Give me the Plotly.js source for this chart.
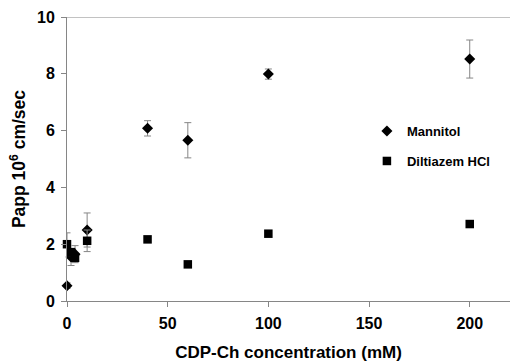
<!DOCTYPE html>
<html>
<head>
<meta charset="utf-8">
<script src="https://cdn.plot.ly/plotly-3.0.1.min.js"></script>
<style>html,body{margin:0;padding:0;background:#fff;}#chart{width:512px;height:362px;}</style>
</head>
<body>
<div id="chart"></div>
<script>
// Mannitol (diamonds)
var mannitolX = [0, 2, 4, 10, 40, 60, 100, 200];
var mannitolY = [0.54, 1.55, 1.65, 2.5, 6.08, 5.66, 7.99, 8.52];
var mannitolErr = [0.1, 0.3, 0.3, 0.6, 0.27, 0.62, 0.18, 0.67];
// Diltiazem HCl (squares)
var diltX = [0, 2, 4, 10, 40, 60, 100, 200];
var diltY = [2.0, 1.72, 1.52, 2.12, 2.17, 1.29, 2.37, 2.71];
var diltErr = [0.4, 0.12, 0.1, 0.38, 0.1, 0.06, 0.07, 0.06];

var xTicks = [0, 50, 100, 150, 200];
var yTicks = [0, 2, 4, 6, 8, 10];

var font = "Liberation Sans, Arial, sans-serif";
var grey = "#868686";

var traces = [
  {
    x: mannitolX, y: mannitolY, name: "Mannitol", type: "scatter", mode: "markers",
    legendgroup: "a", cliponaxis: false,
    marker: {symbol: "diamond", size: 8.5, color: "#000"},
    error_y: {type: "data", array: mannitolErr, visible: true, color: grey, thickness: 1, width: 3.5}
  },
  {
    x: diltX, y: diltY, name: "Diltiazem HCl", type: "scatter", mode: "markers",
    legendgroup: "b", cliponaxis: false,
    marker: {symbol: "square", size: 8.5, color: "#000"},
    error_y: {type: "data", array: diltErr, visible: true, color: grey, thickness: 1, width: 3.5}
  }
];

var layout = {
  width: 512, height: 362,
  margin: {l: 67, r: 2, t: 17, b: 61, autoexpand: false},
  paper_bgcolor: "#fff", plot_bgcolor: "#fff",
  font: {family: font, color: "#000"},
  showlegend: true,
  legend: {
    x: 0.677, y: 0.651, xanchor: "left", yanchor: "top",
    font: {family: font, size: 13, weight: "bold"},
    itemwidth: 30, tracegroupgap: 10, traceorder: "grouped",
    bgcolor: "rgba(0,0,0,0)"
  },
  xaxis: {
    range: [0, 220], tickvals: xTicks, ticktext: xTicks.map(String),
    showgrid: false, zeroline: false, showline: true, linecolor: grey, linewidth: 1,
    ticks: "outside", ticklen: 5, tickcolor: grey, ticklabelstandoff: 3,
    tickfont: {family: font, size: 16, weight: "bold"},
    title: {text: "CDP-Ch concentration (mM)", font: {family: font, size: 17, weight: "bold"}, standoff: 18}
  },
  yaxis: {
    range: [0, 10], tickvals: yTicks, ticktext: yTicks.map(String),
    showgrid: false, zeroline: false, showline: true, linecolor: grey, linewidth: 1,
    ticks: "outside", ticklen: 5, tickcolor: grey, ticklabelstandoff: 3,
    tickfont: {family: font, size: 16, weight: "bold"},
    title: {text: "Papp 10<sup>6</sup> cm/sec", font: {family: font, size: 17.5, weight: "bold"}, standoff: 6}
  },
  shapes: [
    {type: "line", xref: "paper", yref: "y", x0: 0, x1: 1, y0: 10, y1: 10, line: {color: grey, width: 1}}
  ]
};

Plotly.newPlot("chart", traces, layout, {displayModeBar: false, staticPlot: true});
</script>
</body>
</html>
